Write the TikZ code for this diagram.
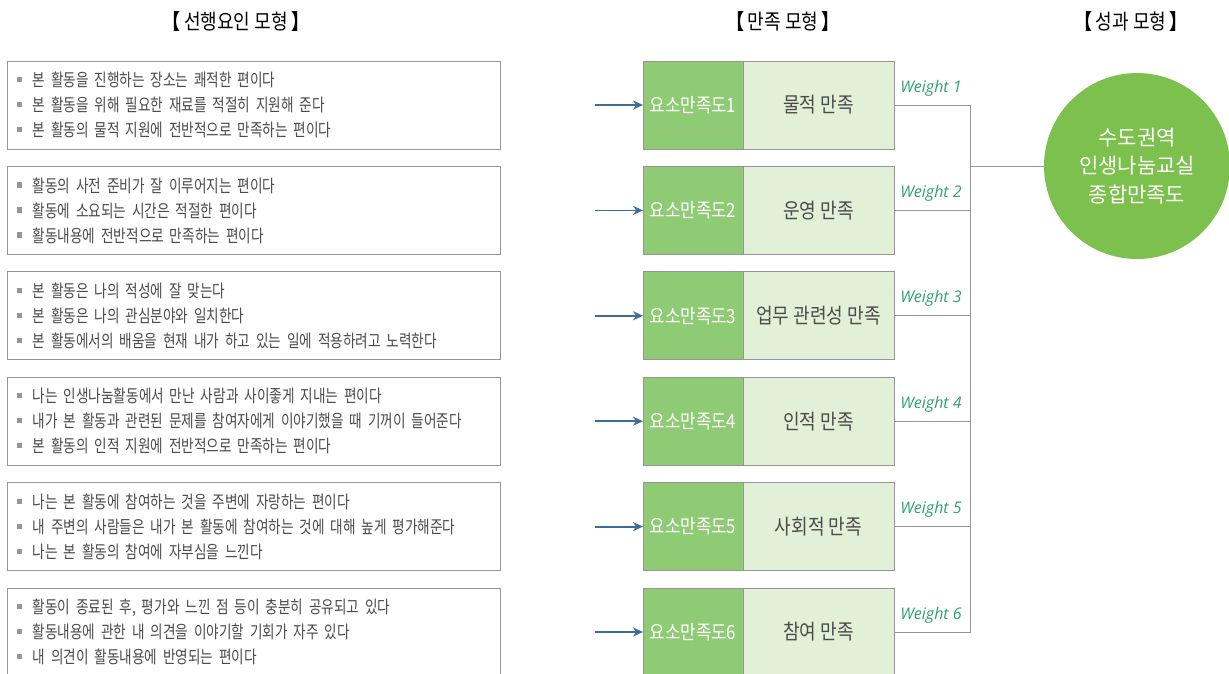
\documentclass[tikz,border=0pt]{standalone}
\usepackage{fontspec}
\setmainfont{Noto Sans CJK KR}
\newfontfamily\narrowkr[FakeStretch=0.86]{Noto Sans CJK KR}
\newfontfamily\itemkr[FakeStretch=0.78,WordSpace=0.6]{Noto Sans CJK KR}
\newfontfamily\weightfont{Open Sans}
\usetikzlibrary{arrows.meta,positioning}
\definecolor{boxgray}{RGB}{150,150,150}
\definecolor{textgray}{RGB}{75,75,75}
\definecolor{darkgreen}{RGB}{143,203,117}
\definecolor{lightgreen}{RGB}{226,240,216}
\definecolor{circlegreen}{RGB}{124,193,78}
\definecolor{weightgreen}{RGB}{48,160,110}
\definecolor{arrowblue}{RGB}{62,108,152}
\newcommand{\bul}{\textcolor{boxgray}{\rule[0.25em]{0.3em}{0.3em}}\hspace{0.6em}}

\begin{document}
\begin{tikzpicture}[x=1pt,y=-1pt,
  header/.style={font=\narrowkr\fontsize{21}{24}\selectfont,text=black},
  itembox/.style={draw=boxgray,line width=0.9pt,minimum width=493pt,minimum height=88pt,
    text width=473pt,align=left,inner xsep=10pt,text=textgray,
    font=\itemkr\fontsize{17.5}{25}\selectfont},
  codebox/.style={draw=boxgray,line width=0.9pt,fill=darkgreen,minimum width=100pt,
    minimum height=88pt,inner sep=0pt,outer sep=0pt,text=white,
    font=\narrowkr\fontsize{19.5}{22}\selectfont},
  namebox/.style={draw=boxgray,line width=0.9pt,fill=lightgreen,minimum width=151pt,
    minimum height=88pt,inner sep=0pt,outer sep=0pt,text=textgray,
    font=\narrowkr\fontsize{21}{24}\selectfont},
  weight/.style={font=\weightfont\itshape\fontsize{16}{18}\selectfont,text=weightgreen},
  goal/.style={circle,fill=circlegreen,minimum size=186pt,inner sep=0pt,text=white,
    align=center,font=\fontsize{21}{28.5}\selectfont},
  link/.style={draw=boxgray,line width=0.9pt},
  feed/.style={draw=arrowblue,line width=1.8pt,-{Stealth[length=10pt,width=9pt]}}]

\useasboundingbox (0,0) rectangle (1229,673);

\node[header] (h1) at (236,22) {\textbf{【}\,선행요인 모형\,\textbf{】}};
\node[header] (h2) at (783,22) {\textbf{【}\,만족 모형\,\textbf{】}};
\node[header] (h3) at (1131,22) {\textbf{【}\,성과 모형\,\textbf{】}};

\node[itembox] (f1) at (253.5,105) {\bul 본 활동을 진행하는 장소는 쾌적한 편이다\\
\bul 본 활동을 위해 필요한 재료를 적절히 지원해 준다\\
\bul 본 활동의 물적 지원에 전반적으로 만족하는 편이다};
\node[itembox] (f2) at (253.5,210.4) {\bul 활동의 사전 준비가 잘 이루어지는 편이다\\
\bul 활동에 소요되는 시간은 적절한 편이다\\
\bul 활동내용에 전반적으로 만족하는 편이다};
\node[itembox] (f3) at (253.5,315.8) {\bul 본 활동은 나의 적성에 잘 맞는다\\
\bul 본 활동은 나의 관심분야와 일치한다\\
\bul 본 활동에서의 배움을 현재 내가 하고 있는 일에 적용하려고 노력한다};
\node[itembox] (f4) at (253.5,421.2) {\bul 나는 인생나눔활동에서 만난 사람과 사이좋게 지내는 편이다\\
\bul 내가 본 활동과 관련된 문제를 참여자에게 이야기했을 때 기꺼이 들어준다\\
\bul 본 활동의 인적 지원에 전반적으로 만족하는 편이다};
\node[itembox] (f5) at (253.5,526.6) {\bul 나는 본 활동에 참여하는 것을 주변에 자랑하는 편이다\\
\bul 내 주변의 사람들은 내가 본 활동에 참여하는 것에 대해 높게 평가해준다\\
\bul 나는 본 활동의 참여에 자부심을 느낀다};
\node[itembox] (f6) at (253.5,632) {\bul 활동이 종료된 후, 평가와 느낀 점 등이 충분히 공유되고 있다\\
\bul 활동내용에 관한 내 의견을 이야기할 기회가 자주 있다\\
\bul 내 의견이 활동내용에 반영되는 편이다};

\node[goal] (goal) at (1137,166) {수도권역\\인생나눔교실\\종합만족도};
\coordinate (j) at (970,166);

\foreach \i/\name in {1/물적 만족,2/운영 만족,3/업무 관련성 만족,4/인적 만족,5/사회적 만족,6/참여 만족}
{
\node[codebox] (d\i) at (693,{105+105.4*(\i-1)}) {요소만족도\i};
\node[namebox,right=0pt of d\i] (m\i) {\name};
\coordinate (a\i) at (595,{105+105.4*(\i-1)});
\draw[feed] (a\i) -- (d\i.west);
\draw[link] (m\i.east) -| (j);
\node[weight] (w\i) at (931,{88+105.4*(\i-1)}) {Weight \i};
}

\draw[link] (j) -- (goal.west);
\end{tikzpicture}
\end{document}
